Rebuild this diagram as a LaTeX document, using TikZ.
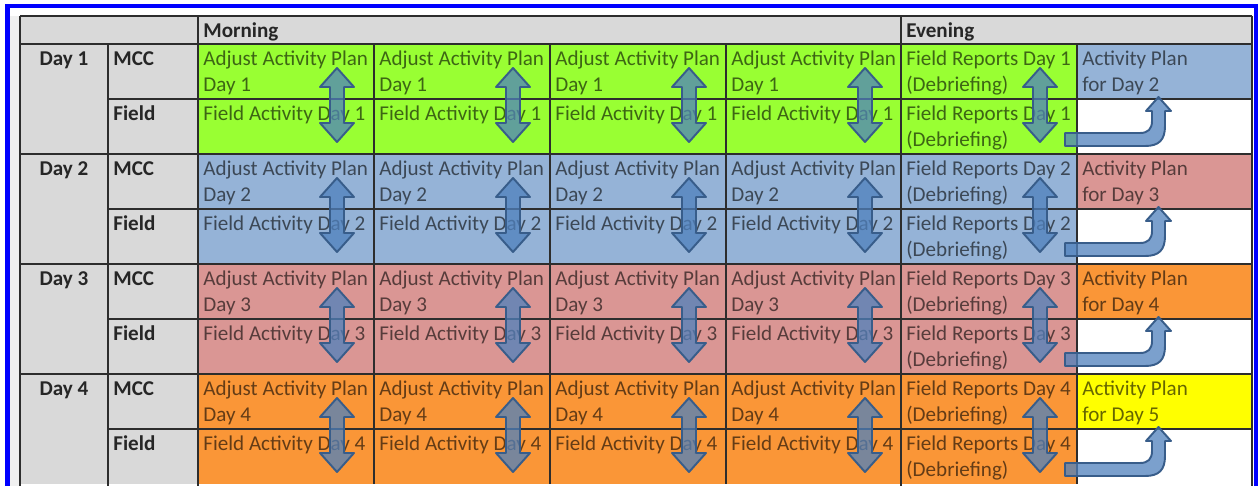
\documentclass[tikz,border=0pt]{standalone}
\usepackage{fontspec}
\setmainfont{Carlito}
\usetikzlibrary{positioning}

\definecolor{hdrgrey}{RGB}{217,217,217}
\definecolor{daygreen}{RGB}{153,255,51}
\definecolor{dayblue}{RGB}{149,179,215}
\definecolor{dayred}{RGB}{218,150,148}
\definecolor{dayorange}{RGB}{250,150,55}
\definecolor{dayyellow}{RGB}{255,255,0}
\definecolor{arrowfill}{RGB}{79,129,189}
\definecolor{arrowline}{RGB}{56,93,138}
\definecolor{frameblue}{RGB}{0,0,255}
\definecolor{gridline}{RGB}{45,45,45}

\tikzset{
  cell/.style={anchor=base west, inner sep=0pt, font=\fontsize{12}{14}\selectfont},
  rowhead/.style={cell, font=\fontsize{12}{14}\selectfont\bfseries, text=black!85},
  thinline/.style={gridline, line width=0.7pt},
  dayline/.style={gridline, line width=1.2pt},
  blockarrow/.style={fill=arrowfill, fill opacity=0.75, draw=arrowline, line width=1.1pt, line join=round},
  % double arrow between MCC and Field
  dblarrow/.pic={
    \filldraw[blockarrow] (0,0) -- (17,19) -- (7,19) -- (7,55) -- (17,55) -- (0,74)
      -- (-17,55) -- (-7,55) -- (-7,19) -- (-17,19) -- cycle;
  },
  % bent arrow into the next plan
  bentarrow/.pic={
    \filldraw[blockarrow] (0,34) -- (75,34) .. controls (83,34) and (87,30) .. (87,22)
      -- (87,12) -- (81,12) -- (93.5,-2) -- (106,12) -- (100,12) -- (100,27)
      .. controls (100,41) and (94,47) .. (80,47) -- (0,47) -- cycle;
  }
}

\begin{document}
\begin{tikzpicture}[x=0.02cm, y=-0.02cm]
  \useasboundingbox (0,0) rectangle (1259,486);
  \clip (0,0) rectangle (1259,486);
  \fill[white] (0,0) rectangle (1259,486);
  \fill[black!6] (10,16) rectangle (20,486);

  % header
  \fill[hdrgrey] (20,16) rectangle (1252,44);
  \node[rowhead] (morning) at (203,38) {Morning};
  \node[rowhead] (evening) at (906,38) {Evening};

  % one block per day
  \foreach \d/\col/\nx/\nxcol [evaluate=\d as \rt using {44+(\d-1)*110}]
    in {1/daygreen/2/dayblue, 2/dayblue/3/dayred, 3/dayred/4/dayorange, 4/dayorange/5/dayyellow} {
    \fill[hdrgrey] (20,\rt) rectangle (198,\rt+110);
    \fill[\col] (198,\rt) rectangle (1077,\rt+110);
    \fill[\nxcol] (1077,\rt) rectangle (1252,\rt+55);
    \node[rowhead, anchor=base] (day\d) at (64,\rt+22) {Day \d};
    \node[rowhead] (mcc\d) at (113,\rt+22) {MCC};
    \node[rowhead] (field\d) at (113,\rt+77) {Field};
    \foreach \c/\xx in {1/198, 2/374, 3/550, 4/726} {
      \node[cell, text=\col!40!black] (adj\d-\c) at (\xx+5,\rt+22) {Adjust Activity Plan};
      \node[cell, text=\col!40!black] (adjday\d-\c) at (\xx+5,\rt+48) {Day \d};
      \node[cell, text=\col!40!black] (fact\d-\c) at (\xx+5,\rt+77) {Field Activity Day \d};
    }
    \node[cell, text=\col!40!black] (rep\d) at (906,\rt+22) {Field Reports Day \d};
    \node[cell, text=\col!40!black] (deb\d) at (906,\rt+48) {(Debriefing)};
    \node[cell, text=\col!40!black] (frep\d) at (906,\rt+77) {Field Reports Day \d};
    \node[cell, text=\col!40!black] (fdeb\d) at (906,\rt+103) {(Debriefing)};
    \node[cell, text=\nxcol!40!black] (plan\d) at (1082,\rt+22) {Activity Plan};
    \node[cell, text=\nxcol!40!black] (for\d) at (1082,\rt+48) {for Day \nx};
    % grid
    \draw[thinline] (108,\rt+55) -- (1252,\rt+55);
    \draw[dayline] (20,\rt) -- (1252,\rt);
    \foreach \xx in {374,550,726,1077}
      \draw[thinline] (\xx,\rt) -- (\xx,\rt+110);
    % arrows
    \foreach \cx in {337,513,689,865,1040}
      \pic at (\cx,\rt+24) {dblarrow};
    \pic at (1065,\rt+55) {bentarrow};
  }

  % outer grid lines
  \draw[dayline] (20,16) -- (1252,16);
  \foreach \xx in {20,198,901,1252}
    \draw[thinline] (\xx,16) -- (\xx,486);
  \draw[thinline] (108,44) -- (108,486);

  % blue frame
  \draw[frameblue, line width=2.3pt] (7.5,500) -- (7.5,6) -- (1256,6) -- (1256,500);
\end{tikzpicture}
\end{document}
